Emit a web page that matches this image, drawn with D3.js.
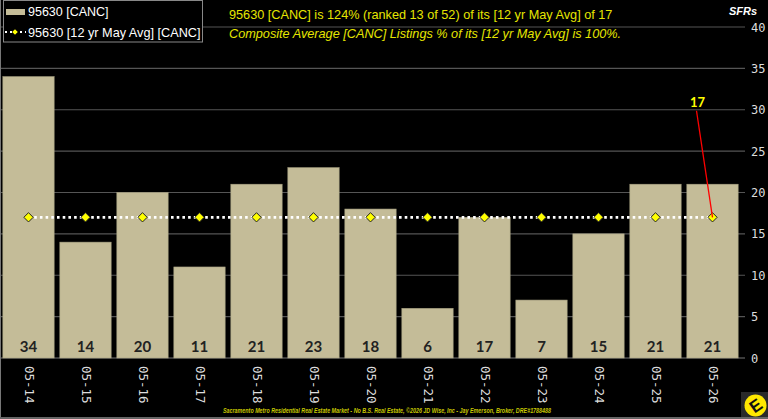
<!DOCTYPE html>
<html>
<head>
<meta charset="utf-8">
<script src="https://cdn.jsdelivr.net/npm/d3@7"></script>
<style>
  body { margin: 0; background: #000; }
  svg { display: block; }
</style>
</head>
<body>
<div id="chart"></div>
<script>
const months = ["05-14","05-15","05-16","05-17","05-18","05-19","05-20","05-21","05-22","05-23","05-24","05-25","05-26"]
const canc = [34, 14, 20, 11, 21, 23, 18, 6, 17, 7, 15, 21, 21]
const avg12 = [17, 17, 17, 17, 17, 17, 17, 17, 17, 17, 17, 17, 17]
const yTicks = [0, 5, 10, 15, 20, 25, 30, 35, 40]

const BAR_COLOR = "#c4bc98"
const YELLOW = "#ffff00"
const width = 768, height = 419

let svg = d3.select("#chart").append("svg").attr("width", width).attr("height", height)
svg.append("rect").attr("width", width).attr("height", height).attr("fill", "#000")

let x = d3.scaleBand().domain(months).range([0, 741]).paddingInner(0.1).paddingOuter(0.05)
let y = d3.scaleLinear().domain([0, 40]).range([358, 27])

// grid + right axis
svg.append("g").selectAll("line").data(yTicks).join("line")
    .attr("x1", 0).attr("x2", 745)
    .attr("y1", d => y(d)).attr("y2", d => y(d))
    .attr("stroke", d => d == 0 ? "#777" : "#555").attr("stroke-width", 1.2)

svg.append("g").selectAll("text").data(yTicks).join("text")
    .text(d => d)
    .attr("x", 751).attr("y", d => y(d) + 4.5)
    .attr("font-family", "DejaVu Sans Mono").attr("font-size", "12px")
    .attr("fill", "#ddd")

// bars
svg.append("g").selectAll("rect").data(canc).join("rect")
    .attr("x", (d, i) => x(months[i]))
    .attr("y", d => y(d))
    .attr("width", x.bandwidth())
    .attr("height", d => y(0) - y(d))
    .attr("fill", BAR_COLOR).attr("stroke", "#a9a283").attr("stroke-width", 0.6)

svg.append("g").selectAll("text").data(canc).join("text")
    .text(d => d)
    .attr("x", (d, i) => x(months[i]) + x.bandwidth() / 2)
    .attr("y", 352)
    .attr("text-anchor", "middle")
    .attr("font-family", "Lato").attr("font-weight", "bold").attr("font-size", "15px")
    .attr("fill", "#222")

// avg line
let cx = (d, i) => x(months[i]) + x.bandwidth() / 2
let line = d3.line().x((d, i) => cx(d, i)).y(d => y(d))
svg.append("path").datum(avg12).attr("d", line)
    .attr("fill", "none").attr("stroke", "#fff").attr("stroke-width", 2.6)
    .attr("stroke-dasharray", "2.6,3.1")

let diamond = d3.symbol().type(d3.symbolDiamond2).size(55)
svg.append("g").selectAll("path").data(avg12).join("path")
    .attr("d", diamond)
    .attr("transform", (d, i) => `translate(${cx(d, i)},${y(d)})`)
    .attr("fill", YELLOW).attr("stroke", "#222").attr("stroke-width", 1)

// callout for latest avg
let lastI = avg12.length - 1
svg.append("line")
    .attr("x1", cx(0, lastI) - 16).attr("y1", y(30) + 1)
    .attr("x2", cx(0, lastI)).attr("y2", y(avg12[lastI]))
    .attr("stroke", "#ff0000").attr("stroke-width", 1.3)
svg.append("text").text(avg12[lastI])
    .attr("x", cx(0, lastI) - 15).attr("y", y(30) - 3)
    .attr("text-anchor", "middle")
    .attr("font-family", "Lato").attr("font-weight", "bold").attr("font-size", "13px")
    .attr("fill", YELLOW)

// x labels (rotated)
svg.append("g").selectAll("text").data(months).join("text")
    .text(d => d)
    .attr("transform", d => `translate(${x(d) + x.bandwidth() / 2},366) rotate(90)`)
    .attr("dominant-baseline", "middle")
    .attr("font-family", "DejaVu Sans Mono").attr("font-size", "12.5px")
    .attr("fill", "#ddd")

// legend
let lg = svg.append("g")
lg.append("rect").attr("x", 3.5).attr("y", 0.5).attr("width", 199).attr("height", 41.5)
    .attr("fill", "#000").attr("stroke", "#888")
lg.append("rect").attr("x", 6).attr("y", 9).attr("width", 19).attr("height", 6).attr("fill", BAR_COLOR)
lg.append("text").text("95630 [CANC]").attr("x", 28).attr("y", 16)
    .attr("font-family", "Liberation Sans").attr("font-size", "12.5px").attr("fill", "#fff")
lg.append("line").attr("x1", 5).attr("x2", 26).attr("y1", 32).attr("y2", 32)
    .attr("stroke", "#fff").attr("stroke-width", 2).attr("stroke-dasharray", "2,3")
lg.append("path").attr("d", d3.symbol().type(d3.symbolDiamond2).size(20))
    .attr("transform", "translate(15,32)").attr("fill", YELLOW)
lg.append("text").text("95630 [12 yr May Avg] [CANC]").attr("x", 28).attr("y", 37)
    .attr("font-family", "Liberation Sans").attr("font-size", "12.7px").attr("fill", "#fff")

// header
svg.append("text").text("95630 [CANC] is 124% (ranked 13 of 52) of its [12 yr May Avg] of 17")
    .attr("x", 229).attr("y", 19)
    .attr("font-family", "Liberation Sans").attr("font-size", "12.7px").attr("fill", "#e6e600")
svg.append("text").text("Composite Average [CANC] Listings % of its [12 yr May Avg] is 100%.")
    .attr("x", 229).attr("y", 38)
    .attr("font-family", "Liberation Sans").attr("font-style", "italic").attr("font-size", "12.7px").attr("fill", "#e6e600")
svg.append("text").text("SFRs")
    .attr("x", 757).attr("y", 15).attr("text-anchor", "end")
    .attr("font-family", "Liberation Sans").attr("font-style", "italic").attr("font-weight", "bold")
    .attr("font-size", "11px").attr("fill", "#fff")

// footer
svg.append("text").text("Sacramento Metro Residential Real Estate Market - No B.S. Real Estate, ©2026 JD Wise, Inc - Jay Emerson, Broker, DRE#1788488")
    .attr("x", 223).attr("y", 413).attr("textLength", 328).attr("lengthAdjust", "spacingAndGlyphs")
    .attr("font-family", "Liberation Sans").attr("font-style", "italic").attr("font-weight", "bold")
    .attr("font-size", "6.5px").attr("fill", "#c8c800")

// logo
svg.append("rect").attr("x", 741).attr("y", 392).attr("width", 27).attr("height", 27).attr("fill", "#2a2a2a")
svg.append("circle").attr("cx", 755.5).attr("cy", 405.5).attr("r", 11).attr("fill", "#ffe800")
svg.append("text").text("E")
    .attr("transform", "translate(756,406) rotate(-35)")
    .attr("text-anchor", "middle").attr("dominant-baseline", "central")
    .attr("font-family", "Liberation Sans").attr("font-weight", "bold").attr("font-size", "17px")
    .attr("fill", "#111")

// frame edges
svg.append("line").attr("x1", 0.5).attr("x2", 0.5).attr("y1", 0).attr("y2", height).attr("stroke", "#777")
svg.append("rect").attr("x", 0).attr("y", 417).attr("width", width).attr("height", 2).attr("fill", "#666")
</script>
</body>
</html>
